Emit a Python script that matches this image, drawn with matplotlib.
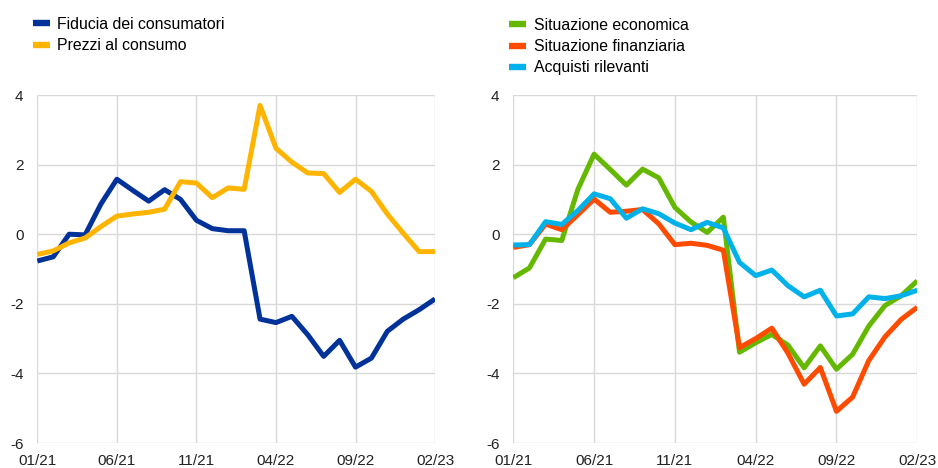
import matplotlib

matplotlib.use("Agg")
import matplotlib.pyplot as plt
import numpy as np

MONTHS = [
    "01/21", "02/21", "03/21", "04/21", "05/21", "06/21", "07/21", "08/21", "09/21",
    "10/21", "11/21", "12/21", "01/22", "02/22", "03/22", "04/22", "05/22", "06/22",
    "07/22", "08/22", "09/22", "10/22", "11/22", "12/22", "01/23", "02/23",
]
TICK_STEP = 5

FIDUCIA = [-0.77, -0.65, 0.0, -0.02, 0.87, 1.58, 1.26, 0.95, 1.28, 1.0, 0.40, 0.16,
           0.10, 0.10, -2.44, -2.54, -2.36, -2.89, -3.51, -3.05, -3.82, -3.56,
           -2.79, -2.44, -2.17, -1.86]
PREZZI = [-0.58, -0.48, -0.25, -0.11, 0.22, 0.52, 0.58, 0.63, 0.72, 1.51, 1.47,
          1.05, 1.33, 1.29, 3.70, 2.47, 2.07, 1.76, 1.74, 1.20, 1.58, 1.23, 0.58,
          0.03, -0.50, -0.50]

ECONOMICA = [-1.25, -0.97, -0.14, -0.18, 1.29, 2.30, 1.86, 1.41, 1.87, 1.62, 0.77,
             0.35, 0.05, 0.49, -3.39, -3.12, -2.88, -3.19, -3.84, -3.21, -3.88,
             -3.45, -2.64, -2.05, -1.77, -1.34]
FINANZIARIA = [-0.38, -0.30, 0.29, 0.13, 0.56, 1.01, 0.63, 0.66, 0.71, 0.30, -0.30,
               -0.26, -0.32, -0.46, -3.26, -3.00, -2.70, -3.42, -4.31, -3.83, -5.09,
               -4.68, -3.63, -2.95, -2.45, -2.10]
ACQUISTI = [-0.31, -0.30, 0.36, 0.28, 0.68, 1.16, 1.02, 0.46, 0.73, 0.59, 0.32,
            0.13, 0.34, 0.18, -0.81, -1.19, -1.03, -1.48, -1.80, -1.61, -2.35,
            -2.29, -1.80, -1.85, -1.77, -1.61]

Y_TICKS = [-6, -4, -2, 0, 2, 4]

BLUE = "#003299"
YELLOW = "#FFB400"
GREEN = "#65B800"
ORANGE = "#FF4B00"
CYAN = "#00B1EA"

plt.rcParams["font.family"] = ["Liberation Sans", "DejaVu Sans"]
plt.rcParams["axes.unicode_minus"] = False

fig = plt.figure(figsize=(9.38, 4.68), dpi=100)
ax_left = fig.add_axes([0.0398, 0.0534, 0.424, 0.7436])
ax_right = fig.add_axes([0.5472, 0.0534, 0.4307, 0.7436])

x = np.arange(len(MONTHS))
tick_pos = x[::TICK_STEP]
tick_lab = MONTHS[::TICK_STEP]
line_kw = dict(lw=3.6, solid_joinstyle="round", solid_capstyle="butt")

ax_left.plot(x, FIDUCIA, color=BLUE, label="Fiducia dei consumatori", **line_kw)
ax_left.plot(x, PREZZI, color=YELLOW, label="Prezzi al consumo", **line_kw)

ax_right.plot(x, ECONOMICA, color=GREEN, label="Situazione economica", **line_kw)
ax_right.plot(x, FINANZIARIA, color=ORANGE, label="Situazione finanziaria", **line_kw)
ax_right.plot(x, ACQUISTI, color=CYAN, label="Acquisti rilevanti", **line_kw)

for ax in (ax_left, ax_right):
    ax.set_xlim(0, len(MONTHS) - 1)
    ax.set_ylim(-6, 4)
    ax.set_xticks(tick_pos)
    ax.set_xticklabels(tick_lab)
    ax.set_yticks(Y_TICKS)
    ax.grid(color="#d9d9d9", lw=1.0)
    ax.set_axisbelow(True)
    for spine in ax.spines.values():
        spine.set_visible(False)
    ax.tick_params(length=0, labelsize=11, colors="#222222")
    ax.tick_params(axis="x", pad=8)
    ax.tick_params(axis="y", pad=10)

legend_kw = dict(loc="upper left", bbox_transform=fig.transFigure, frameon=False,
                 handlelength=1.1, handletextpad=0.45, labelspacing=0.4,
                 borderaxespad=0, borderpad=0, fontsize=11.4)
leg = ax_left.legend(bbox_to_anchor=(0.0349, 0.964), **legend_kw)
for h in leg.get_lines():
    h.set_linewidth(4.6)
    h.set_solid_capstyle("butt")
leg = ax_right.legend(bbox_to_anchor=(0.5426, 0.962), **legend_kw)
for h in leg.get_lines():
    h.set_linewidth(4.6)
    h.set_solid_capstyle("butt")

fig.savefig("out.png", dpi=100)
